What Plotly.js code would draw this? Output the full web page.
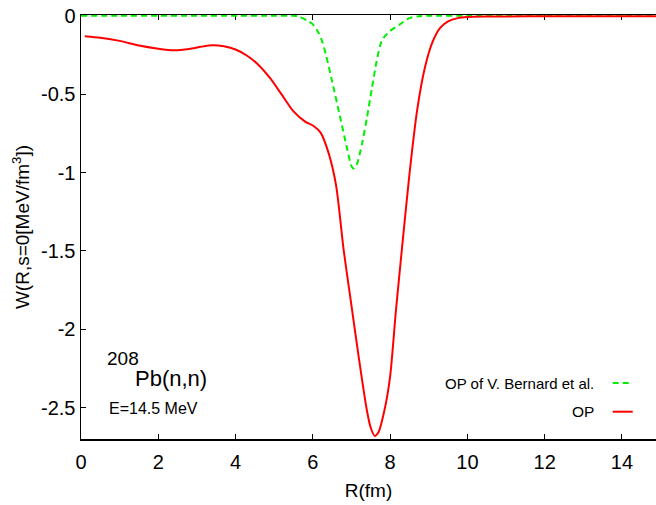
<!DOCTYPE html>
<html>
<head>
<meta charset="utf-8">
<script src="https://cdn.plot.ly/plotly-3.0.1.min.js"></script>
<style>html,body{margin:0;padding:0;background:#fff;}#chart{width:656px;height:505px;}</style>
</head>
<body>
<div id="chart"></div>
<script>
// OP (red, solid)
const opR = [0.1, 0.5, 1.0, 1.5, 2.0, 2.4, 2.8, 3.1, 3.4, 3.7, 4.0, 4.3, 4.6, 4.9, 5.2, 5.5, 5.8, 6.0, 6.2, 6.4, 6.6, 6.8, 7.0, 7.2, 7.4, 7.5, 7.6, 7.7, 7.85, 8.0, 8.15, 8.3, 8.5, 8.7, 8.9, 9.1, 9.3, 9.5, 9.75, 10.0, 10.5, 11, 12, 13, 14, 15];
const opW = [-0.13, -0.14, -0.16, -0.19, -0.21, -0.22, -0.212, -0.198, -0.188, -0.195, -0.215, -0.255, -0.315, -0.40, -0.505, -0.61, -0.675, -0.70, -0.745, -0.87, -1.08, -1.50, -1.85, -2.20, -2.52, -2.63, -2.68, -2.655, -2.52, -2.30, -1.88, -1.50, -1.01, -0.60, -0.33, -0.165, -0.075, -0.035, -0.015, -0.008, -0.005, -0.004, -0.003, -0.003, -0.003, -0.003];
// OP of V. Bernard et al. (green, dashed)
const bR = [0, 1, 2, 3, 4, 5, 5.5, 5.65, 5.85, 6.0, 6.15, 6.25, 6.35, 6.5, 6.7, 6.88, 7.0, 7.05, 7.12, 7.27, 7.4, 7.53, 7.65, 7.78, 7.9, 8.0, 8.25, 8.5, 8.75, 9, 10, 11, 12, 13, 14, 15];
const bW = [0, 0, 0, 0, 0, 0, 0, -0.005, -0.03, -0.055, -0.11, -0.17, -0.26, -0.42, -0.64, -0.84, -0.96, -0.975, -0.96, -0.82, -0.65, -0.46, -0.29, -0.16, -0.12, -0.097, -0.055, -0.015, -0.003, 0, 0, 0, 0, 0, 0, 0];

const xTicks = [0, 2, 4, 6, 8, 10, 12, 14];
const yTicks = [0, -0.5, -1, -1.5, -2, -2.5];
const yTickText = ['0', '-0.5', '-1', '-1.5', '-2', '-2.5'];
const seriesNames = ['OP of V. Bernard et al.', 'OP'];

const GREEN = '#00f000', RED = '#ff0000';
const SANS = '"Liberation Sans", Arial, Helvetica, sans-serif';

const traces = [
  {x: bR, y: bW, name: seriesNames[0], mode: 'lines', line: {color: GREEN, width: 2, dash: '6px,4px', shape: 'spline', smoothing: 0.7}, showlegend: false},
  {x: opR, y: opW, name: seriesNames[1], mode: 'lines', line: {color: RED, width: 2, shape: 'spline', smoothing: 0.7}, showlegend: false}
];

const L = 81, R = 0, T = 15, B = 66, W = 656, H = 505;
const pw = W - L - R, ph = H - T - B;
const px = v => (v - L) / pw;
const py = v => (H - B - v) / ph;

const layout = {
  width: W, height: H,
  margin: {l: L, r: R, t: T, b: B, pad: 0},
  paper_bgcolor: '#fff', plot_bgcolor: '#fff',
  font: {family: SANS, color: '#000', size: 20},
  showlegend: false,
  xaxis: {
    range: [0, 14.88], tickvals: xTicks, ticktext: xTicks.map(String),
    ticks: 'inside', ticklen: 5, tickwidth: 1, tickcolor: '#000',
    showline: true, linecolor: '#000', linewidth: 1.5, mirror: 'ticks',
    showgrid: false, zeroline: false, layer: 'below traces',
    ticklabelstandoff: 4,
    tickfont: {family: SANS, size: 20, color: '#000'},
    title: {text: 'R(fm)', font: {family: SANS, size: 19, color: '#000'}, standoff: 12}
  },
  yaxis: {
    range: [-2.7, 0.005], tickvals: yTicks, ticktext: yTickText,
    ticks: 'inside', ticklen: 5, tickwidth: 1, tickcolor: '#000',
    showline: true, linecolor: '#000', linewidth: 1.5, mirror: false,
    showgrid: false, zeroline: false, layer: 'below traces',
    tickfont: {family: SANS, size: 20, color: '#000'},
    title: {text: 'W(R,s=0[MeV/fm<sup>3</sup>])', font: {family: SANS, size: 19, color: '#000'}, standoff: 6}
  },
  annotations: [
    {xref: 'paper', yref: 'paper', x: px(105), y: py(358), xanchor: 'left', yanchor: 'middle', text: '208', showarrow: false, font: {family: SANS, size: 19, color: '#000'}},
    {xref: 'paper', yref: 'paper', x: px(133), y: py(378), xanchor: 'left', yanchor: 'middle', text: 'Pb(n,n)', showarrow: false, font: {family: SANS, size: 22, color: '#000'}},
    {xref: 'paper', yref: 'paper', x: px(107), y: py(408.5), xanchor: 'left', yanchor: 'middle', text: 'E=14.5 MeV', showarrow: false, font: {family: SANS, size: 16, color: '#000'}},
    {xref: 'paper', yref: 'paper', x: px(596), y: py(383), xanchor: 'right', yanchor: 'middle', text: seriesNames[0], showarrow: false, font: {family: SANS, size: 15, color: '#000'}},
    {xref: 'paper', yref: 'paper', x: px(596), y: py(411.7), xanchor: 'right', yanchor: 'middle', text: seriesNames[1], showarrow: false, font: {family: SANS, size: 15.5, color: '#000'}}
  ],
  shapes: [
    {type: 'line', xref: 'paper', yref: 'paper', x0: px(612.7), x1: px(632.7), y0: py(383), y1: py(383), line: {color: GREEN, width: 2, dash: '6px,4px'}},
    {type: 'line', xref: 'paper', yref: 'paper', x0: px(612.7), x1: px(632.7), y0: py(411.7), y1: py(411.7), line: {color: RED, width: 2}}
  ]
};

Plotly.newPlot('chart', traces, layout, {displayModeBar: false, staticPlot: true});
</script>
</body>
</html>
